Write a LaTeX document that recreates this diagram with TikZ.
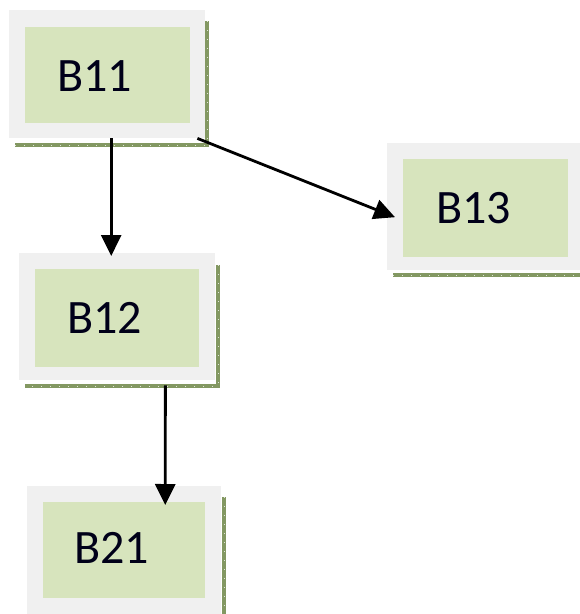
\documentclass[tikz,border=0pt]{standalone}
\usepackage{fontspec}
\setmainfont{Carlito}
\usetikzlibrary{arrows.meta}
\definecolor{panelgray}{HTML}{F0F0F0}
\definecolor{panelgreen}{HTML}{D7E4BD}
\definecolor{shadowolive}{HTML}{839862}
\tikzset{
  outerbox/.style={fill=panelgray, draw=none, anchor=north west, inner sep=0pt},
  innerbox/.style={fill=panelgreen, draw=none, inner sep=0pt},
  shadowline/.style={draw=shadowolive, line width=4.2pt},
  shadowdots/.style={draw=white!75!shadowolive, line width=1pt, dash pattern=on 1pt off 8pt},
  boxlabel/.style={anchor=base west, inner sep=0pt, text=black!90!blue, font=\fontsize{48}{58}\selectfont},
  link/.style={line width=2.8pt, -{Triangle[length=21pt,width=20pt]}},
}
\begin{document}
\begin{tikzpicture}[x=1pt, y=-1pt]
  \useasboundingbox (0,0) rectangle (580,614);
  \clip (0,0) rectangle (580,614);

  % outer panels
  \node[outerbox, minimum width=196pt, minimum height=128pt] (b11) at (9,10) {};
  \node[outerbox, minimum width=196pt, minimum height=127pt] (b12) at (19,253) {};
  \node[outerbox, minimum width=196pt, minimum height=127pt] (b13) at (387,143) {};
  \node[outerbox, minimum width=194pt, minimum height=128pt] (b21) at (27,486) {};

  % green faces
  \node[innerbox, minimum width=165pt, minimum height=96pt] (b11in) at (107.5,75) {};
  \node[innerbox, minimum width=164pt, minimum height=98pt] (b12in) at (117,318) {};
  \node[innerbox, minimum width=165pt, minimum height=98pt] (b13in) at (485.5,208) {};
  \node[innerbox, minimum width=162pt, minimum height=96pt] (b21in) at (124,550) {};

  % hatched drop shadows
  \foreach \style in {shadowline, shadowdots} {
    \draw[\style] (207,21) -- (207,145) -- (15,145);
    \draw[\style] (218,265) -- (218,386) -- (25,386);
    \draw[\style] (393,275) -- (585,275);
    \draw[\style] (224,497) -- (224,620);
  }

  % labels
  \node[boxlabel] (t11) at (57,91) {B11};
  \node[boxlabel] (t12) at (67,333) {B12};
  \node[boxlabel] (t13) at (436,223) {B13};
  \node[boxlabel] (t21) at (74,563) {B21};

  % connectors
  \draw[link] ([xshift=4pt]b11.south) -- ([xshift=-6pt, yshift=-3pt]b12.north);
  \draw[link] ([xshift=-8pt]b11.south east) -- ([xshift=8pt, yshift=-10.5pt]b13.west);
  \draw[link] ([xshift=-50pt, yshift=-5pt]b12.south east) -- ([xshift=41pt, yshift=-19pt]b21.north);
\end{tikzpicture}
\end{document}
